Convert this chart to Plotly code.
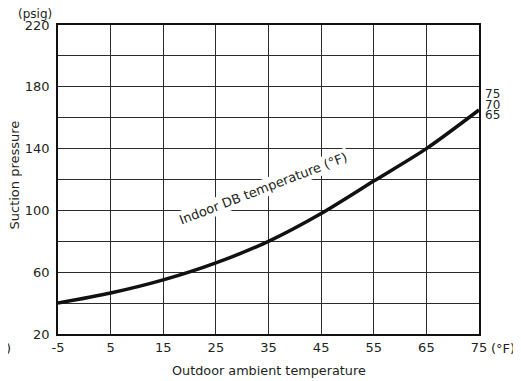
import plotly.graph_objects as go

# Outdoor ambient temperature (°F) vs suction pressure (psig)
outdoor_temp = [-5, 5, 15, 25, 35, 45, 55, 65, 75]
suction_psig = [40, 46.5, 55, 66, 80, 98, 119, 140, 165]

x_ticks = [-5, 5, 15, 25, 35, 45, 55, 65, 75]
x_ticklabels = ["-5", "5", "15", "25", "35", "45", "55", "65", "75"]
y_ticks = [20, 40, 60, 80, 100, 120, 140, 160, 180, 200, 220]
y_ticklabels = ["20", "", "60", "", "100", "", "140", "", "180", "", "220"]

indoor_db_labels = ["75", "70", "65"]
indoor_db_label_y = [175.5, 168.5, 161.5]

FONT = "DejaVu Sans, Liberation Sans, Arial, sans-serif"
TXT = "#231f20"

fig = go.Figure()

fig.add_trace(go.Scatter(
    x=outdoor_temp, y=suction_psig,
    mode="lines",
    line=dict(color="#111111", width=3.5, shape="spline", smoothing=0.8),
    showlegend=False, hoverinfo="skip"
))

annotations = [
    dict(text="Indoor DB temperature (°F)", xref="x", yref="y",
         x=34, y=114, textangle=-21, showarrow=False,
         bgcolor="white", font=dict(size=13, color=TXT)),
    dict(text="(psig)", xref="paper", yref="paper", x=0, y=1,
         xanchor="right", yanchor="bottom", xshift=-4, yshift=2,
         showarrow=False, font=dict(size=12, color=TXT)),
    dict(text="(°F)", xref="paper", yref="paper", x=1, y=0,
         xanchor="left", yanchor="middle", xshift=10, yshift=-14,
         showarrow=False, font=dict(size=13, color=TXT)),
    dict(text="(°F)", xref="paper", yref="paper", x=-0.107, y=0,
         xanchor="right", yanchor="middle", yshift=-14,
         showarrow=False, font=dict(size=13, color=TXT)),
    dict(text="Outdoor ambient temperature", xref="paper", yref="paper",
         x=0.5, y=-0.117, xanchor="center", yanchor="middle",
         showarrow=False, font=dict(size=12.8, color=TXT)),
    dict(text="Suction pressure", xref="paper", yref="paper",
         x=-0.103, y=0.515, xanchor="center", yanchor="middle", textangle=-90,
         showarrow=False, font=dict(size=13, color=TXT)),
]
for lab, yv in zip(indoor_db_labels, indoor_db_label_y):
    annotations.append(dict(text=lab, xref="paper", yref="y", x=1, y=yv,
                            xanchor="left", yanchor="middle", xshift=4,
                            showarrow=False, font=dict(size=12, color=TXT)))

# the page adds an 8px body margin, so the figure is drawn 8px smaller
fig.update_layout(
    width=513, height=373,
    margin=dict(l=50, r=42, t=17, b=47),
    paper_bgcolor="white", plot_bgcolor="white",
    font=dict(family=FONT, size=13, color=TXT),
    annotations=annotations,
)

fig.update_xaxes(
    range=[-5, 75], tickvals=x_ticks, ticktext=x_ticklabels,
    showgrid=True, gridcolor="#2b2b2b", gridwidth=1.2,
    showline=True, linecolor="#111111", linewidth=1.5, mirror=True,
    zeroline=False, ticks="", ticklabelstandoff=1, automargin=False,
)
fig.update_yaxes(
    range=[20, 220], tickvals=y_ticks, ticktext=y_ticklabels,
    showgrid=True, gridcolor="#2b2b2b", gridwidth=1.2,
    showline=True, linecolor="#111111", linewidth=1.5, mirror=True,
    zeroline=False, ticks="", ticklabelstandoff=4, automargin=False,
)

fig.write_html("out.html")
